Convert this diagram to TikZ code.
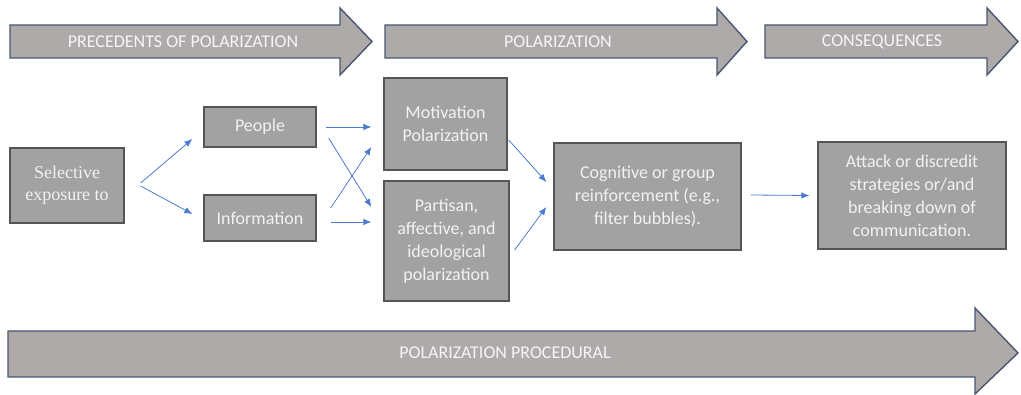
\documentclass[tikz,border=0pt]{standalone}
\usepackage{fontspec}
\setmainfont{Carlito}
\newfontfamily\serifbox{Liberation Serif}
\usetikzlibrary{arrows.meta}

\definecolor{bandfill}{HTML}{AEAAAA}
\definecolor{bandline}{HTML}{4A5670}
\definecolor{boxfill}{HTML}{A2A2A2}
\definecolor{boxline}{HTML}{555555}
\definecolor{flow}{HTML}{4A7BD0}

\tikzset{
  band/.style={fill=bandfill, draw=bandline, line width=1.4pt, line join=miter},
  bandtext/.style={text=white!96!black, font=\fontsize{18}{21}\selectfont, inner sep=0pt},
  stage/.style={draw=boxline, fill=boxfill, line width=1.3pt, text=white!95!black,
    align=center, font=\fontsize{18}{23}\selectfont, inner sep=0pt},
  flowarrow/.style={draw=flow, line width=0.8pt, -{Latex[length=8pt,width=6.5pt]}}
}

\begin{document}
\begin{tikzpicture}[x=1pt, y=-1pt]
  \useasboundingbox (0,0) rectangle (1021,395);

  \draw[band] (10,25) -- (340,25) -- (340,8) -- (372,41.5) -- (340,75) -- (340,58) -- (10,58) -- cycle;
  \node[bandtext] (precedents) at (183,41.5) {PRECEDENTS OF POLARIZATION};
  \draw[band] (385,25) -- (717,25) -- (717,8) -- (747,41.5) -- (717,75) -- (717,58) -- (385,58) -- cycle;
  \node[bandtext] (polar) at (558,41.5) {POLARIZATION};
  \draw[band] (765,25) -- (987,25) -- (987,8) -- (1018,41.5) -- (987,75) -- (987,58) -- (765,58) -- cycle;
  \node[bandtext] (conseq) at (882,41.5) {CONSEQUENCES};
  \draw[band] (8,331) -- (975,331) -- (975,308) -- (1018,353) -- (975,394) -- (975,377) -- (8,377) -- cycle;
  \node[bandtext] (procedural) at (505,353) {POLARIZATION PROCEDURAL};

  \node[stage, minimum width=114pt, minimum height=75pt, font=\serifbox\fontsize{18}{22}\selectfont]
    (selective) at (67,185.5) {Selective\\exposure to};
  \node[stage, minimum width=112pt, minimum height=40pt] (people) at (260,127) {People};
  \node[stage, minimum width=112pt, minimum height=46pt] (information) at (260,218) {Information};
  \node[stage, minimum width=123pt, minimum height=92pt] (motivation) at (445.5,124) {Motivation\\Polarization};
  \node[stage, minimum width=125pt, minimum height=120pt] (partisan) at (446.5,241)
    {Partisan,\\affective, and\\ideological\\polarization};
  \node[stage, minimum width=187pt, minimum height=107pt] (cognitive) at (647.5,196.5)
    {Cognitive or group\\reinforcement (e.g.,\\filter bubbles).};
  \node[stage, minimum width=188pt, minimum height=107pt] (attack) at (912,195.5)
    {Attack or discredit\\strategies or/and\\breaking down of\\communication.};

  \draw[flowarrow] ([xshift=16pt,yshift=2.5pt]selective.east) -- ([xshift=-11pt,yshift=-12pt]people.west);
  \draw[flowarrow] ([xshift=16pt,yshift=-0.5pt]selective.east) -- ([xshift=-11pt,yshift=4pt]information.west);
  \draw[flowarrow] ([xshift=9pt]people.east) -- ([xshift=-12pt,yshift=-3pt]motivation.west);
  \draw[flowarrow] ([xshift=12pt,yshift=-11pt]people.east) -- ([xshift=-12pt,yshift=34pt]partisan.west);
  \draw[flowarrow] ([xshift=14pt,yshift=10pt]information.east) -- ([xshift=-12pt,yshift=-23pt]motivation.west);
  \draw[flowarrow] ([xshift=14pt,yshift=-4pt]information.east) -- ([xshift=-12pt,yshift=19pt]partisan.west);
  \draw[flowarrow] ([xshift=1pt,yshift=-16pt]motivation.east) -- ([xshift=-7pt,yshift=14.5pt]cognitive.west);
  \draw[flowarrow] ([xshift=5pt,yshift=-9pt]partisan.east) -- ([xshift=-7pt,yshift=-10.5pt]cognitive.west);
  \draw[flowarrow] ([xshift=9pt,yshift=1.5pt]cognitive.east) -- ([xshift=-8pt]attack.west);
\end{tikzpicture}
\end{document}
